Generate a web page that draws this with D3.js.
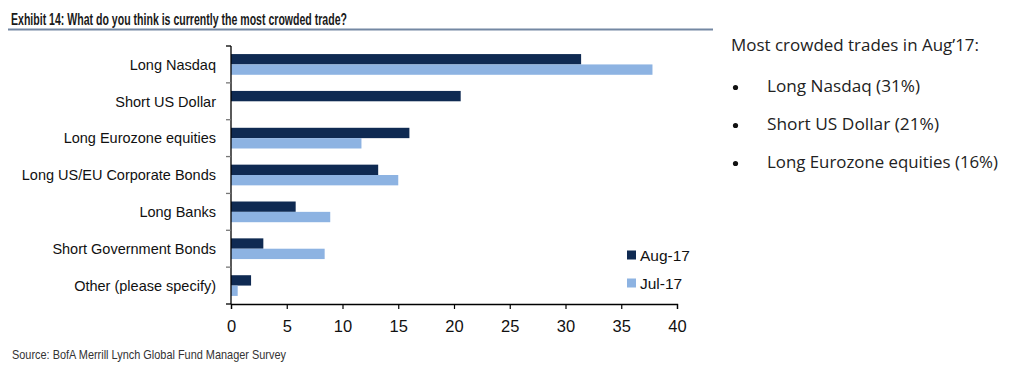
<!DOCTYPE html>
<html><head><meta charset="utf-8">
<script src="https://cdn.jsdelivr.net/npm/d3@7"></script>
<style>body{margin:0;background:#fff;} svg{display:block;}</style>
</head><body>
<svg id="c" width="1024" height="379"></svg>
<script>
const categories = ["Long Nasdaq","Short US Dollar","Long Eurozone equities","Long US/EU Corporate Bonds","Long Banks","Short Government Bonds","Other (please specify)"];
const aug17 = [31.4, 20.6, 16.0, 13.2, 5.8, 2.9, 1.8];
const jul17 = [37.8, 0, 11.7, 15.0, 8.9, 8.4, 0.6];
const seriesNames = ["Aug-17","Jul-17"];
const xTicks = [0,5,10,15,20,25,30,35,40];
const titleText = "Exhibit 14: What do you think is currently the most crowded trade?";
const sourceText = "Source: BofA Merrill Lynch Global Fund Manager Survey";
const noteTitle = "Most crowded trades in Aug\u201917:";
const noteItems = ["Long Nasdaq (31%)","Short US Dollar (21%)","Long Eurozone equities (16%)"];

const colors = {"Aug-17":"#0f2a52","Jul-17":"#8db3e2"};
const svg = d3.select("#c");

// Title
svg.append("text").attr("x",11).attr("y",25)
  .attr("font-family","Liberation Sans Narrow, Liberation Sans, sans-serif")
  .attr("font-weight","bold").attr("font-size",16.5).attr("fill","#1a1a1a")
  .attr("textLength",336).attr("lengthAdjust","spacingAndGlyphs")
  .text(titleText);
svg.append("line").attr("x1",8).attr("x2",713).attr("y1",29.5).attr("y2",29.5)
  .attr("stroke","#7488a3").attr("stroke-width",2);

// Scales
const x = d3.scaleLinear().domain([0,40]).range([231,677]);
const y = d3.scaleBand().domain(categories).range([46,304]).paddingInner(0).paddingOuter(0);
const sub = d3.scaleBand().domain(seriesNames).range([0,y.bandwidth()]).paddingInner(0).paddingOuter(0.78);

const rows = categories.map((c,i)=>({cat:c, vals:[{s:"Aug-17",v:aug17[i]},{s:"Jul-17",v:jul17[i]}]}));
const g = svg.append("g");
const rg = g.selectAll("g.row").data(rows).join("g").attr("transform",d=>`translate(0,${y(d.cat)})`);
rg.selectAll("rect").data(d=>d.vals.filter(e=>e.v>0)).join("rect")
  .attr("x",x(0)).attr("y",d=>sub(d.s)).attr("height",sub.bandwidth())
  .attr("width",d=>x(d.v)-x(0)).attr("fill",d=>colors[d.s]);

// Y axis: line + boundary ticks
const bounds = categories.map(c=>y(c)).concat([y.range()[1]]);
svg.append("line").attr("x1",x(0)).attr("x2",x(0)).attr("y1",46).attr("y2",304)
  .attr("stroke","#000").attr("stroke-width",1.3);
svg.selectAll("line.yt").data(bounds).join("line").attr("class","yt")
  .attr("x1",x(0)-5).attr("x2",x(0)).attr("y1",d=>d).attr("y2",d=>d)
  .attr("stroke",(d,i)=> (i===0||i===bounds.length-1)?"#000":"#777").attr("stroke-width",1.3);
svg.selectAll("text.cat").data(categories).join("text").attr("class","cat")
  .attr("x",216).attr("y",d=>y(d)+y.bandwidth()/2).attr("dy","0.36em")
  .attr("text-anchor","end").attr("font-family","Liberation Sans, Arial, sans-serif")
  .attr("font-size",14.5).attr("fill","#111").text(d=>d);

// X axis
const xa = svg.append("g").attr("transform","translate(0,304)")
  .call(d3.axisBottom(x).tickValues(xTicks).tickSize(5).tickPadding(11).tickFormat(d3.format("d")));
xa.select(".domain").attr("stroke","#000").attr("stroke-width",1.3);
xa.selectAll(".tick line").attr("stroke","#000").attr("stroke-width",1.2);
xa.selectAll(".tick text").attr("font-family","Liberation Sans, Arial, sans-serif")
  .attr("font-size",16.5).attr("fill","#111");

// Legend
const lg = svg.append("g").attr("transform","translate(627,250.5)");
seriesNames.forEach((s,i)=>{
  lg.append("rect").attr("x",0).attr("y",i*28).attr("width",9).attr("height",9).attr("fill",colors[s]);
  lg.append("text").attr("x",13).attr("y",i*28+4.5).attr("dy","0.36em")
    .attr("font-family","Liberation Sans, Arial, sans-serif").attr("font-size",15.5).attr("fill","#111").text(s);
});

// Right note
svg.append("text").attr("x",731).attr("y",51)
  .attr("font-family","Open Sans, Noto Sans, sans-serif").attr("font-size",15.5).attr("fill","#222")
  .attr("textLength",248).attr("lengthAdjust","spacingAndGlyphs").text(noteTitle);
const noteW = [153,172,231];
noteItems.forEach((t,i)=>{
  const by = 92 + i*38;
  svg.append("circle").attr("cx",735.5).attr("cy",by-4.5).attr("r",2.6).attr("fill","#111");
  svg.append("text").attr("x",767).attr("y",by)
    .attr("font-family","Open Sans, Noto Sans, sans-serif").attr("font-size",15.5).attr("fill","#222")
    .attr("textLength",noteW[i]).attr("lengthAdjust","spacingAndGlyphs").text(t);
});

// Source
svg.append("text").attr("x",12).attr("y",359)
  .attr("font-family","Liberation Sans Narrow, Liberation Sans, sans-serif")
  .attr("font-size",13.5).attr("fill","#333")
  .attr("textLength",274).attr("lengthAdjust","spacingAndGlyphs").text(sourceText);
</script>
</body></html>
